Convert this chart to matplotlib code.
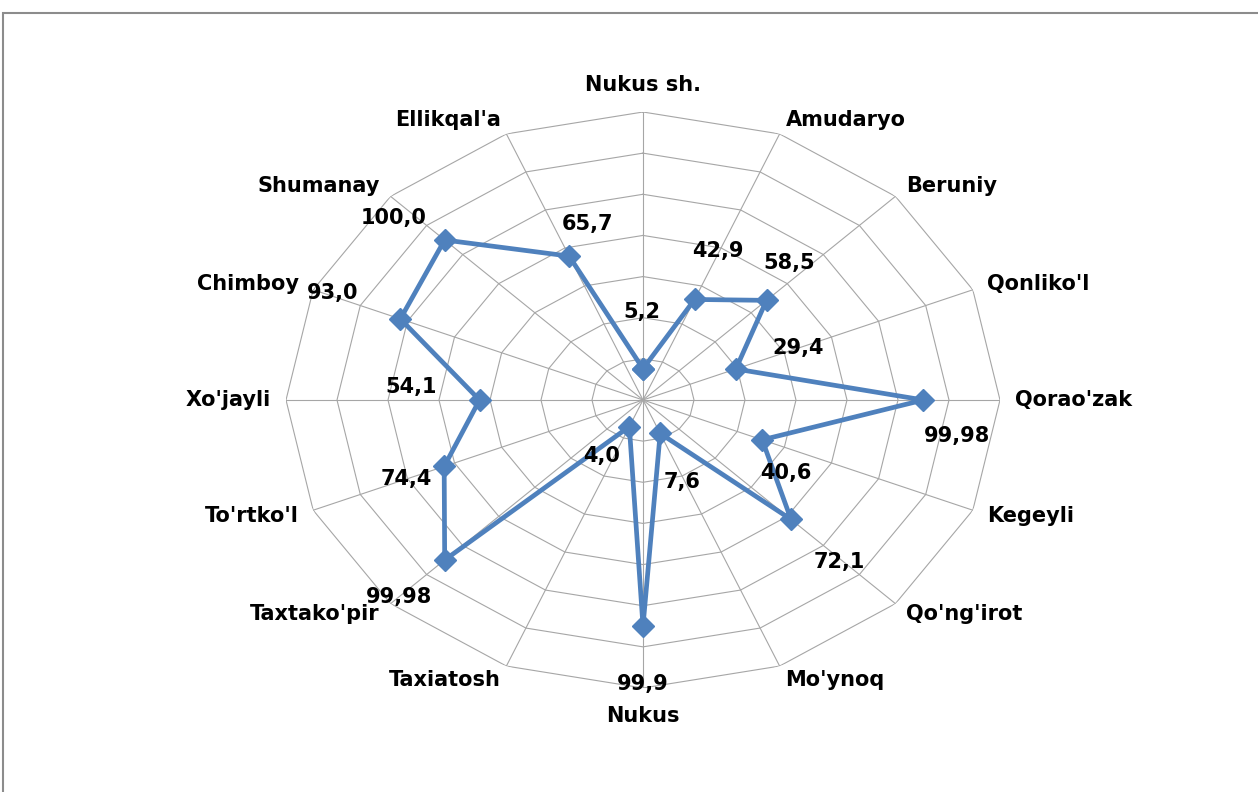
import numpy as np
import matplotlib

matplotlib.use("Agg")
import matplotlib.pyplot as plt
from matplotlib.patches import Rectangle

categories = [
    "Nukus sh.", "Amudaryo", "Beruniy", "Qonliko'l", "Qorao'zak", "Kegeyli",
    "Qo'ng'irot", "Mo'ynoq", "Nukus", "Taxiatosh", "Taxtako'pir", "To'rtko'l",
    "Xo'jayli", "Chimboy", "Shumanay", "Ellikqal'a",
]
values = [5.2, 42.9, 58.5, 29.4, 99.98, 40.6, 72.1, 7.6, 99.9, 4.0, 99.98,
          74.4, 54.1, 93.0, 100.0, 65.7]
value_labels = ["5,2", "42,9", "58,5", "29,4", "99,98", "40,6", "72,1", "7,6",
                "99,9", "4,0", "99,98", "74,4", "54,1", "93,0", "100,0", "65,7"]
ring_values = [10, 30, 50, 70, 90, 110, 130]

# label offsets (points) from each marker, as placed in the original
label_offsets = [(-1, 41), (17, 35), (16, 27), (45, 15), (24, -26), (17, -24),
                 (35, -31), (16, -35), (0, -42), (-20, -21), (-33, -27),
                 (-27, -9), (-49, 9), (-49, 19), (-37, 16), (13, 23)]

LINE = "#4F81BD"
GRID = "#A6A6A6"
FONT = ["DejaVu Sans"]
R_MIN, R_MAX = -10, 130


def build_plot():
    fig = plt.figure(figsize=(12.58, 7.92), dpi=100)
    fig.patches.append(Rectangle((3 / 1258, -0.02), 1.05, 1 - 13 / 792 + 0.02,
                                 transform=fig.transFigure, fill=False,
                                 edgecolor="#8C8C8C", linewidth=1.5))

    ax = fig.add_axes([286 / 1258, 104 / 792, 714 / 1258, 576 / 792],
                      projection="polar")
    ax.set_theta_zero_location("N")
    ax.set_theta_direction(-1)
    ax.set_aspect("auto")
    ax.set_ylim(R_MIN, R_MAX)
    ax.grid(False)
    ax.set_xticks([])
    ax.set_yticks([])
    ax.spines["polar"].set_visible(False)
    ax.patch.set_visible(False)

    n = len(categories)
    theta = np.arange(n) * 2 * np.pi / n
    theta_closed = np.append(theta, theta[0])

    for r in ring_values:
        ax.plot(theta_closed, [r] * (n + 1), color=GRID, lw=0.8, zorder=1)
    for t in theta:
        ax.plot([t, t], [R_MIN, R_MAX], color=GRID, lw=0.8, zorder=1)

    ax.plot(theta_closed, values + values[:1], color=LINE, lw=3.4,
            marker="D", markersize=11, zorder=3, clip_on=False)

    for t, v, lab, off in zip(theta, values, value_labels, label_offsets):
        ax.annotate(lab, xy=(t, v), xytext=off, textcoords="offset points",
                    ha="center", va="center", fontsize=15, fontweight="bold",
                    family=FONT, color="black", zorder=4)

    for t, name in zip(theta, categories):
        s, c = np.sin(t), np.cos(t)
        if s > 0.1:
            ha = "left"
        elif s < -0.1:
            ha = "right"
        else:
            ha = "center"
        if abs(s) <= 0.1:
            va = "bottom" if c > 0 else "top"
            off = (0, 12 if c > 0 else -13)
        else:
            va = "center"
            off = (11 * s, 11 * c)
        ax.annotate(name, xy=(t, R_MAX), xytext=off, textcoords="offset points",
                    ha=ha, va=va, fontsize=15, fontweight="bold",
                    family=FONT, color="black")
    return fig


def main() -> None:
    fig = build_plot()
    fig.savefig("out.png", dpi=100)


if __name__ == "__main__":
    main()
